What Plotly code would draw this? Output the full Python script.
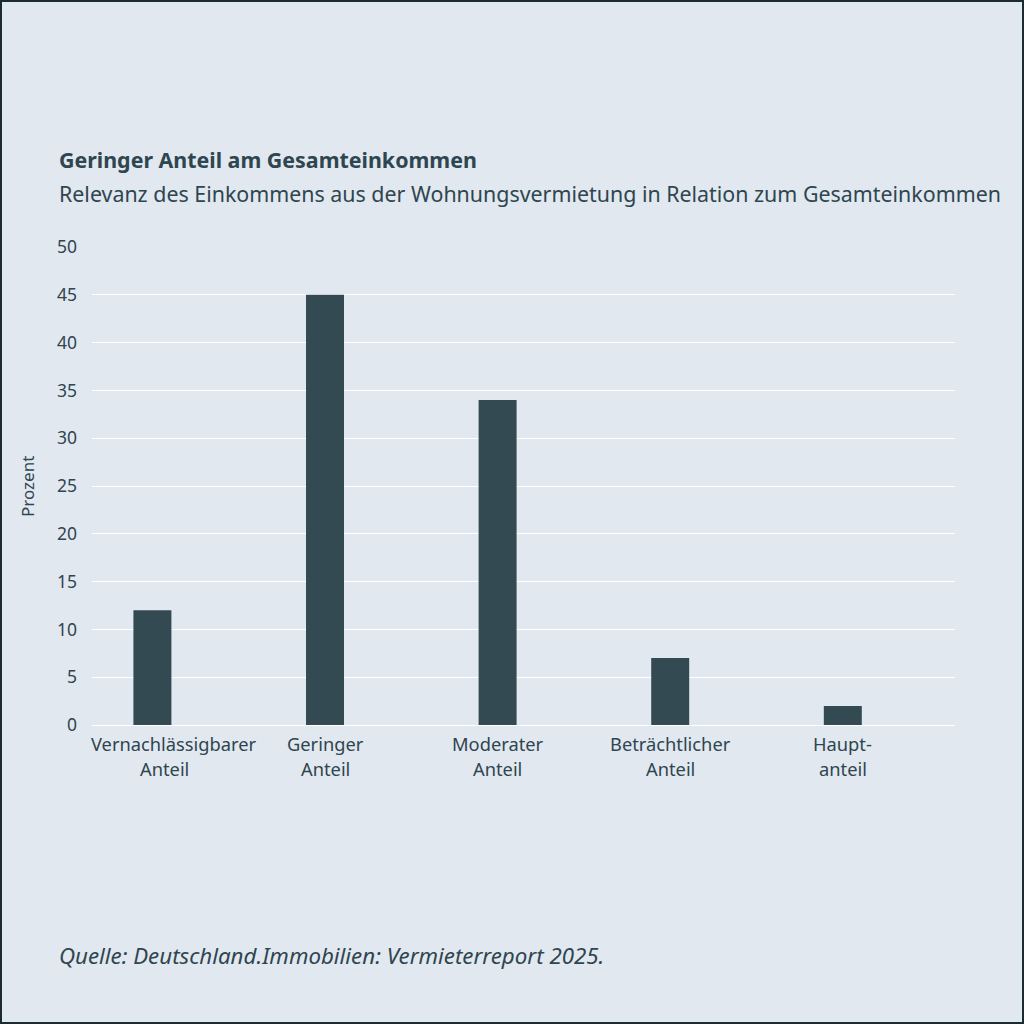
import plotly.graph_objects as go

categories = ["Vernachlässigbarer<br>Anteil", "Geringer<br>Anteil", "Moderater<br>Anteil",
              "Beträchtlicher<br>Anteil", "Haupt-<br>anteil"]
values = [12, 45, 34, 7, 2]
y_ticks = [0, 5, 10, 15, 20, 25, 30, 35, 40, 45, 50]

BG = "#e1e8ef"
BAR = "#334a53"
TXT = "#2f4550"
FONT = "Noto Sans"

W, H = 1024, 1024
L, R, T, B = 92, 69, 247, 299
pw, ph = W - L - R, H - T - B

def px(x):
    return (x - L) / pw

def py(y):
    return (H - B - y) / ph

fig = go.Figure()
fig.add_trace(go.Bar(x=list(range(len(categories))), y=values, width=0.22,
                     marker=dict(color=BAR, line=dict(width=0)), hoverinfo="skip"))

fig.update_layout(
    width=W, height=H, autosize=False,
    margin=dict(l=L, r=R, t=T, b=B),
    paper_bgcolor=BG, plot_bgcolor=BG,
    font=dict(family=FONT, color=TXT, size=17),
    showlegend=False,
    xaxis=dict(range=[-0.35, 4.65], tickmode="array", tickvals=list(range(len(categories))),
               showticklabels=False, showgrid=False, zeroline=False, showline=False, ticks=""),
    yaxis=dict(range=[0, 50], tickmode="array", tickvals=y_ticks,
               ticktext=[str(v) for v in y_ticks], showgrid=True, gridcolor="#ffffff",
               gridwidth=1.2, zeroline=True, zerolinecolor="#ffffff", zerolinewidth=1.2,
               showline=False, ticks="", tickfont=dict(size=17.5, color=TXT), ticklabelstandoff=14),
)

# category labels, line by line, anchored to the category axis
for i, lab in enumerate(categories):
    lines = lab.split("<br>")
    for j, line in enumerate(lines):
        shift = 0
        if i == 0:
            shift = 22 if j == 0 else 12  # kept inside the plot's left edge as in the reference
        fig.add_annotation(text=line, x=i, y=0, xref="x", yref="y",
                           xanchor="center", yanchor="middle", showarrow=False,
                           xshift=shift, yshift=-(18 + 25 * j),
                           font=dict(family=FONT, size=18.3, color=TXT))

annos = [
    dict(text="<b>Geringer Anteil am Gesamteinkommen</b>", x=px(57), y=py(160), size=21.4),
    dict(text="Relevanz des Einkommens aus der Wohnungsvermietung in Relation zum Gesamteinkommen",
         x=px(57), y=py(193), size=21.4),
    dict(text="<i>Quelle: Deutschland.Immobilien: Vermieterreport 2025.</i>", x=px(57), y=py(955), size=22.3),
]
for a in annos:
    fig.add_annotation(text=a["text"], x=a["x"], y=a["y"], xref="paper", yref="paper",
                       xanchor="left", yanchor="middle", showarrow=False,
                       font=dict(family=FONT, size=a["size"], color=TXT))

fig.add_annotation(text="Prozent", x=px(27), y=py(487), xref="paper", yref="paper",
                   xanchor="center", yanchor="middle", showarrow=False, textangle=-90,
                   font=dict(family=FONT, size=17, color=TXT))

fig.add_shape(type="rect", xref="paper", yref="paper", x0=px(1), x1=px(1023), y0=py(1023), y1=py(1),
              line=dict(color="#1c2b31", width=2), fillcolor="rgba(0,0,0,0)", layer="above")

fig.write_html("out.html")
